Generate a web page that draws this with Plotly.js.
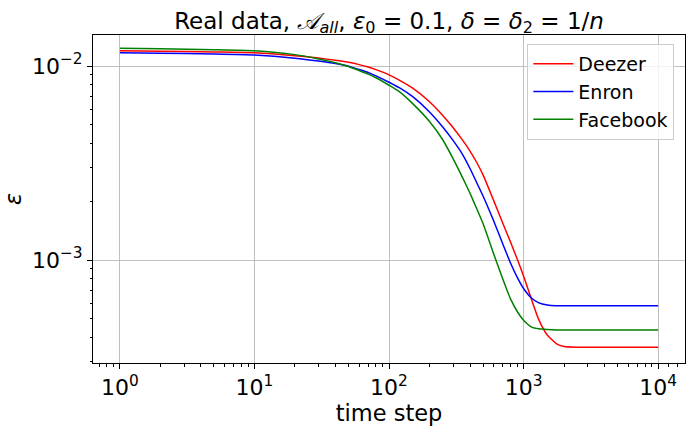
<!DOCTYPE html>
<html>
<head>
<meta charset="utf-8">
<script src="https://cdn.plot.ly/plotly-3.0.1.min.js"></script>
<style>html,body{margin:0;padding:0;background:#fff;}#chart{width:691px;height:429px;}</style>
</head>
<body>
<div id="chart"></div>
<script>
// time steps (x)
const timeSteps = [1, 2, 5, 10, 20, 30, 40, 50, 60, 70, 80, 100, 120, 150, 200, 250, 300, 350, 400, 450, 500, 600, 700, 800, 900, 1000, 1150, 1300, 1500, 1750, 2000, 2500, 3000, 5000, 10000];

// epsilon values
const deezer = [1.199e-2, 1.192e-2, 1.182e-2, 1.171e-2, 1.131e-2, 1.099e-2, 1.071e-2, 1.045e-2, 1.017e-2, 9.88e-3, 9.58e-3, 9.01e-3, 8.44e-3, 7.69e-3, 6.546e-3, 5.58e-3, 4.808e-3, 4.174e-3, 3.646e-3, 3.172e-3, 2.746e-3, 2.024e-3, 1.551e-3, 1.238e-3, 1.006e-3, 8.27e-4, 6.22e-4, 4.91e-4, 4.105e-4, 3.71e-4, 3.578e-4, 3.548e-4, 3.548e-4, 3.548e-4, 3.548e-4];
const enron = [1.171e-2, 1.164e-2, 1.153e-2, 1.139e-2, 1.098e-2, 1.061e-2, 1.030e-2, 9.98e-3, 9.59e-3, 9.26e-3, 8.90e-3, 8.25e-3, 7.71e-3, 6.95e-3, 5.80e-3, 4.865e-3, 4.125e-3, 3.527e-3, 2.962e-3, 2.493e-3, 2.138e-3, 1.589e-3, 1.213e-3, 9.65e-4, 8.11e-4, 7.13e-4, 6.35e-4, 6.01e-4, 5.86e-4, 5.81e-4, 5.81e-4, 5.81e-4, 5.81e-4, 5.81e-4, 5.81e-4];
const facebook = [1.234e-2, 1.227e-2, 1.215e-2, 1.199e-2, 1.145e-2, 1.088e-2, 1.041e-2, 9.95e-3, 9.48e-3, 9.09e-3, 8.70e-3, 7.96e-3, 7.36e-3, 6.40e-3, 5.18e-3, 4.18e-3, 3.323e-3, 2.685e-3, 2.209e-3, 1.832e-3, 1.542e-3, 1.074e-3, 8.00e-4, 6.30e-4, 5.41e-4, 4.89e-4, 4.51e-4, 4.42e-4, 4.38e-4, 4.355e-4, 4.355e-4, 4.355e-4, 4.355e-4, 4.355e-4, 4.355e-4];

const seriesNames = ["Deezer", "Enron", "Facebook"];
const seriesColors = ["red", "blue", "green"];

// tick labels
const xTickVals = [1, 10, 100, 1000, 10000];
const xTickText = ["10<sup>0</sup>", "10<sup>1</sup>", "10<sup>2</sup>", "10<sup>3</sup>", "10<sup>4</sup>"];
const yTickVals = [1e-3, 1e-2];
const yTickText = ["10<sup>\u22123</sup>", "10<sup>\u22122</sup>"];
const xMinor = [0.7, 0.8, 0.9, 2, 3, 4, 5, 6, 7, 8, 9, 20, 30, 40, 50, 60, 70, 80, 90, 200, 300, 400, 500, 600, 700, 800, 900, 2000, 3000, 4000, 5000, 6000, 7000, 8000, 9000, 12000, 14000];
const yMinor = [3e-4, 4e-4, 5e-4, 6e-4, 7e-4, 8e-4, 9e-4, 2e-3, 3e-3, 4e-3, 5e-3, 6e-3, 7e-3, 8e-3, 9e-3];

const allSeries = [deezer, enron, facebook];
const traces = allSeries.map((ys, i) => ({
  x: timeSteps, y: ys, type: "scatter", mode: "lines",
  name: seriesNames[i],
  line: {color: seriesColors[i], width: 1.5, shape: "spline", smoothing: 0.5}
}));

const font = "DejaVu Sans, sans-serif";
const layout = {
  width: 691, height: 429,
  margin: {l: 93, r: 6, t: 35, b: 66, pad: 0},
  paper_bgcolor: "white", plot_bgcolor: "white",
  font: {family: font, color: "black", size: 20},
  showlegend: true,
  title: {
    text: "Real data, <i>\uD835\uDC9C</i><sub><i>all</i></sub>, <i>\u03B5</i><sub>0</sub> = 0.1, <i>\u03B4</i> = <i>\u03B4</i><sub>2</sub> = 1/<i>n</i>",
    font: {family: font, size: 23, color: "black"},
    x: 0.5, xref: "paper", xanchor: "center",
    y: 0.952, yref: "container", yanchor: "middle"
  },
  xaxis: {
    type: "log", range: [-0.2, 4.2],
    tickmode: "array", tickvals: xTickVals, ticktext: xTickText,
    ticks: "outside", ticklen: 5, tickwidth: 1, tickcolor: "black",
    tickfont: {size: 22},
    showgrid: true, gridcolor: "#b0b0b0", gridwidth: 0.8,
    showline: true, linecolor: "black", linewidth: 1, mirror: true,
    zeroline: false,
    minor: {tickmode: "array", tickvals: xMinor, ticks: "outside", ticklen: 2.5, tickcolor: "black", showgrid: false},
    title: {text: "time step", font: {size: 22.5}, standoff: 5}
  },
  yaxis: {
    type: "log", range: [-3.531, -1.84],
    tickmode: "array", tickvals: yTickVals, ticktext: yTickText,
    ticks: "outside", ticklen: 5, tickwidth: 1, tickcolor: "black",
    tickfont: {size: 22},
    showgrid: true, gridcolor: "#b0b0b0", gridwidth: 0.8,
    showline: true, linecolor: "black", linewidth: 1, mirror: true,
    zeroline: false,
    minor: {tickmode: "array", tickvals: yMinor, ticks: "outside", ticklen: 2.5, tickcolor: "black", showgrid: false},
    title: {text: "<i>\u03B5</i>", font: {size: 22.5}, standoff: 8}
  },
  legend: {
    x: 0.982, xanchor: "right", y: 0.9726, yanchor: "top",
    bgcolor: "rgba(255,255,255,0.8)", bordercolor: "#cccccc", borderwidth: 1,
    font: {size: 19, family: font}, itemwidth: 40
  }
};

Plotly.newPlot("chart", traces, layout, {staticPlot: true, displayModeBar: false});
</script>
</body>
</html>
